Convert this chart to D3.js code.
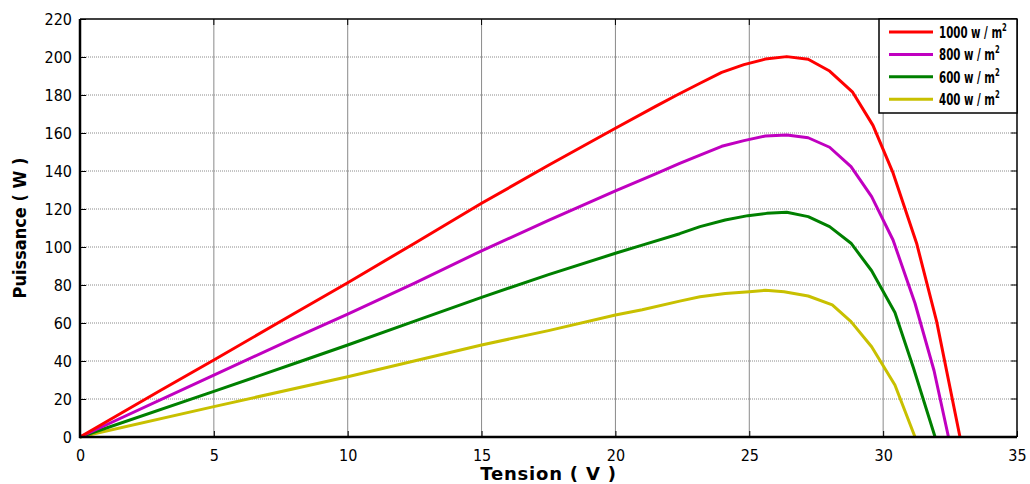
<!DOCTYPE html>
<html>
<head>
<meta charset="utf-8">
<script src="https://cdn.jsdelivr.net/npm/d3@7"></script>
<style>
  body { margin: 0; background: #fff; }
  svg { display: block; }
  .tick text { font-family: "DejaVu Sans Condensed", "DejaVu Sans", sans-serif; font-size: 16px; fill: #000; }
</style>
</head>
<body>
<svg id="chart" width="1030" height="484"></svg>
<script>
"use strict";

// tension (V) / puissance (W), one pair per irradiance
var v1000 = [0, 3, 5, 8, 10, 12.5, 15, 17.5, 20, 21.5, 22.3, 23.16, 23.97, 24.8, 25.6, 26.4, 27.2, 28.0, 28.85, 29.62, 30.37, 31.25, 32.0, 32.87];
var p1000 = [0, 24.5, 40.5, 65, 81.2, 102, 123, 143, 162.5, 174, 180, 186.2, 191.9, 196, 198.9, 200.2, 198.8, 192.6, 181.7, 164, 139, 102, 60.7, 0];

var v800 = [0, 5, 8, 10, 12.5, 15, 17.5, 20, 21.5, 22.4, 23.16, 23.97, 24.8, 25.6, 26.4, 27.2, 28.0, 28.8, 29.57, 30.37, 31.19, 31.9, 32.44];
var p800 = [0, 32.6, 52, 64.7, 81, 98, 114, 129.6, 138.5, 144, 148.4, 153, 156, 158.4, 159, 157.5, 152.5, 142.3, 126.5, 103.7, 70.4, 35, 0];

var v600 = [0, 5, 8.2, 10, 12.5, 15, 17.5, 20, 21, 22.4, 23.16, 24.1, 24.95, 25.65, 26.4, 27.2, 28.0, 28.8, 29.57, 30.44, 31.13, 31.94];
var p600 = [0, 24, 39.6, 48.4, 61, 73.5, 85.5, 96.7, 101, 107, 110.7, 114.2, 116.5, 117.7, 118.3, 116, 110.7, 102, 87.5, 65.5, 36.5, 0];

var v400 = [0, 5, 10, 15, 17.5, 20, 21, 22.4, 23.16, 24.1, 25, 25.6, 26.3, 27.2, 28.1, 28.8, 29.57, 30.44, 31.19];
var p400 = [0, 16, 31.7, 48.4, 56, 64.2, 67, 71.5, 73.8, 75.5, 76.5, 77.2, 76.5, 74.2, 69.5, 60.7, 47.5, 27.4, 0];

var seriesNames = ['1000', '800', '600', '400'];
var seriesColors = ['#ff0000', '#c000c0', '#008000', '#c8c000'];
var xTicks = [0, 5, 10, 15, 20, 25, 30, 35];
var yTicks = [0, 20, 40, 60, 80, 100, 120, 140, 160, 180, 200, 220];

var series = [
  { name: seriesNames[0], color: seriesColors[0], v: v1000, p: p1000 },
  { name: seriesNames[1], color: seriesColors[1], v: v800, p: p800 },
  { name: seriesNames[2], color: seriesColors[2], v: v600, p: p600 },
  { name: seriesNames[3], color: seriesColors[3], v: v400, p: p400 }
];

var margin = { left: 80, right: 13, top: 19, bottom: 47 };
var svg = d3.select('#chart');
var W = +svg.attr('width'), H = +svg.attr('height');
var w = W - margin.left - margin.right;
var h = H - margin.top - margin.bottom;

var x = d3.scaleLinear().domain([0, 35]).range([0, w]);
var y = d3.scaleLinear().domain([0, 220]).range([h, 0]);

var g = svg.append('g').attr('transform', 'translate(' + margin.left + ',' + margin.top + ')');

// grid : vertical solid, horizontal dotted
g.append('g').selectAll('line')
  .data(xTicks.slice(1, -1))
  .enter().append('line')
  .attr('x1', d => x(d)).attr('x2', d => x(d))
  .attr('y1', 0).attr('y2', h)
  .attr('stroke', '#8a8a8a').attr('stroke-width', 1);

g.append('g').selectAll('line')
  .data(yTicks.slice(1, -1))
  .enter().append('line')
  .attr('x1', 0).attr('x2', w)
  .attr('y1', d => y(d)).attr('y2', d => y(d))
  .attr('stroke', '#8a8a8a').attr('stroke-width', 1)
  .attr('stroke-dasharray', '1,1');

// curves
var line = d3.line()
  .x(d => x(d[0]))
  .y(d => y(d[1]));

g.append('g').selectAll('path')
  .data(series.slice().reverse())
  .enter().append('path')
  .attr('d', s => line(s.v.map((v, i) => [v, s.p[i]])))
  .attr('fill', 'none')
  .attr('stroke', s => s.color)
  .attr('stroke-width', 3)
  .attr('stroke-linejoin', 'round');

// axes, ticks pointing inwards
var xAxis = g.append('g')
  .attr('transform', 'translate(0,' + h + ')')
  .call(d3.axisBottom(x).tickValues(xTicks).tickSizeInner(-6).tickSizeOuter(0).tickPadding(13));
var yAxis = g.append('g')
  .call(d3.axisLeft(y).tickValues(yTicks).tickSizeInner(-6).tickSizeOuter(0).tickPadding(8));
xAxis.select('.domain').remove();
yAxis.select('.domain').remove();
xAxis.selectAll('.tick line').attr('stroke', '#000');
yAxis.selectAll('.tick line').attr('stroke', '#000');

// right and top ticks
g.append('g').selectAll('line')
  .data(yTicks)
  .enter().append('line')
  .attr('x1', w).attr('x2', w - 6)
  .attr('y1', d => y(d)).attr('y2', d => y(d))
  .attr('stroke', '#000');
g.append('g').selectAll('line')
  .data(xTicks)
  .enter().append('line')
  .attr('x1', d => x(d)).attr('x2', d => x(d))
  .attr('y1', 0).attr('y2', 6)
  .attr('stroke', '#000');

// frame
g.append('line').attr('x1', w).attr('x2', w).attr('y1', 0).attr('y2', h).attr('stroke', '#000').attr('stroke-width', 1.5);
g.append('line').attr('x1', 0).attr('x2', w).attr('y1', 0).attr('y2', 0).attr('stroke', '#000').attr('stroke-width', 1.5);
g.append('line').attr('x1', 0).attr('x2', 0).attr('y1', 0).attr('y2', h + 1).attr('stroke', '#000').attr('stroke-width', 2.5);
g.append('line').attr('x1', -1).attr('x2', w).attr('y1', h).attr('y2', h).attr('stroke', '#000').attr('stroke-width', 2.5);

// axis titles
svg.append('text')
  .attr('x', margin.left + x(17.5))
  .attr('y', 480)
  .attr('text-anchor', 'middle')
  .attr('font-family', '"DejaVu Sans", sans-serif')
  .attr('font-weight', 'bold')
  .attr('font-size', 18)
  .attr('letter-spacing', 0.8)
  .text('Tension ( V )');

svg.append('text')
  .attr('transform', 'translate(26,' + (margin.top + h / 2) + ') rotate(-90)')
  .attr('text-anchor', 'middle')
  .attr('font-family', '"DejaVu Sans Condensed", "DejaVu Sans", sans-serif')
  .attr('font-weight', 'bold')
  .attr('font-size', 18)
  .text('Puissance ( W )');

// legend
var lg = g.append('g').attr('transform', 'translate(' + (w - 138) + ',0)');
lg.append('rect')
  .attr('x', 0).attr('y', 0).attr('width', 138).attr('height', 94)
  .attr('fill', '#fff').attr('stroke', '#000').attr('stroke-width', 1.5);
var item = lg.selectAll('g.item')
  .data(series)
  .enter().append('g')
  .attr('class', 'item')
  .attr('transform', (d, i) => 'translate(0,' + (13 + i * 22.4) + ')');
item.append('line')
  .attr('x1', 10).attr('x2', 54)
  .attr('stroke', d => d.color).attr('stroke-width', 3);
// the original face is much narrower: squeeze the label horizontally
var lt = item.append('text')
  .attr('transform', 'translate(60,6) scale(0.76,1)')
  .attr('font-family', '"DejaVu Sans Condensed", "DejaVu Sans", sans-serif')
  .attr('font-weight', 'bold')
  .attr('font-size', 15)
  .attr('fill', '#000');
lt.append('tspan').text(d => d.name + ' w / m');
lt.append('tspan').attr('font-size', 10).attr('dy', -7).text('2');
</script>
</body>
</html>
